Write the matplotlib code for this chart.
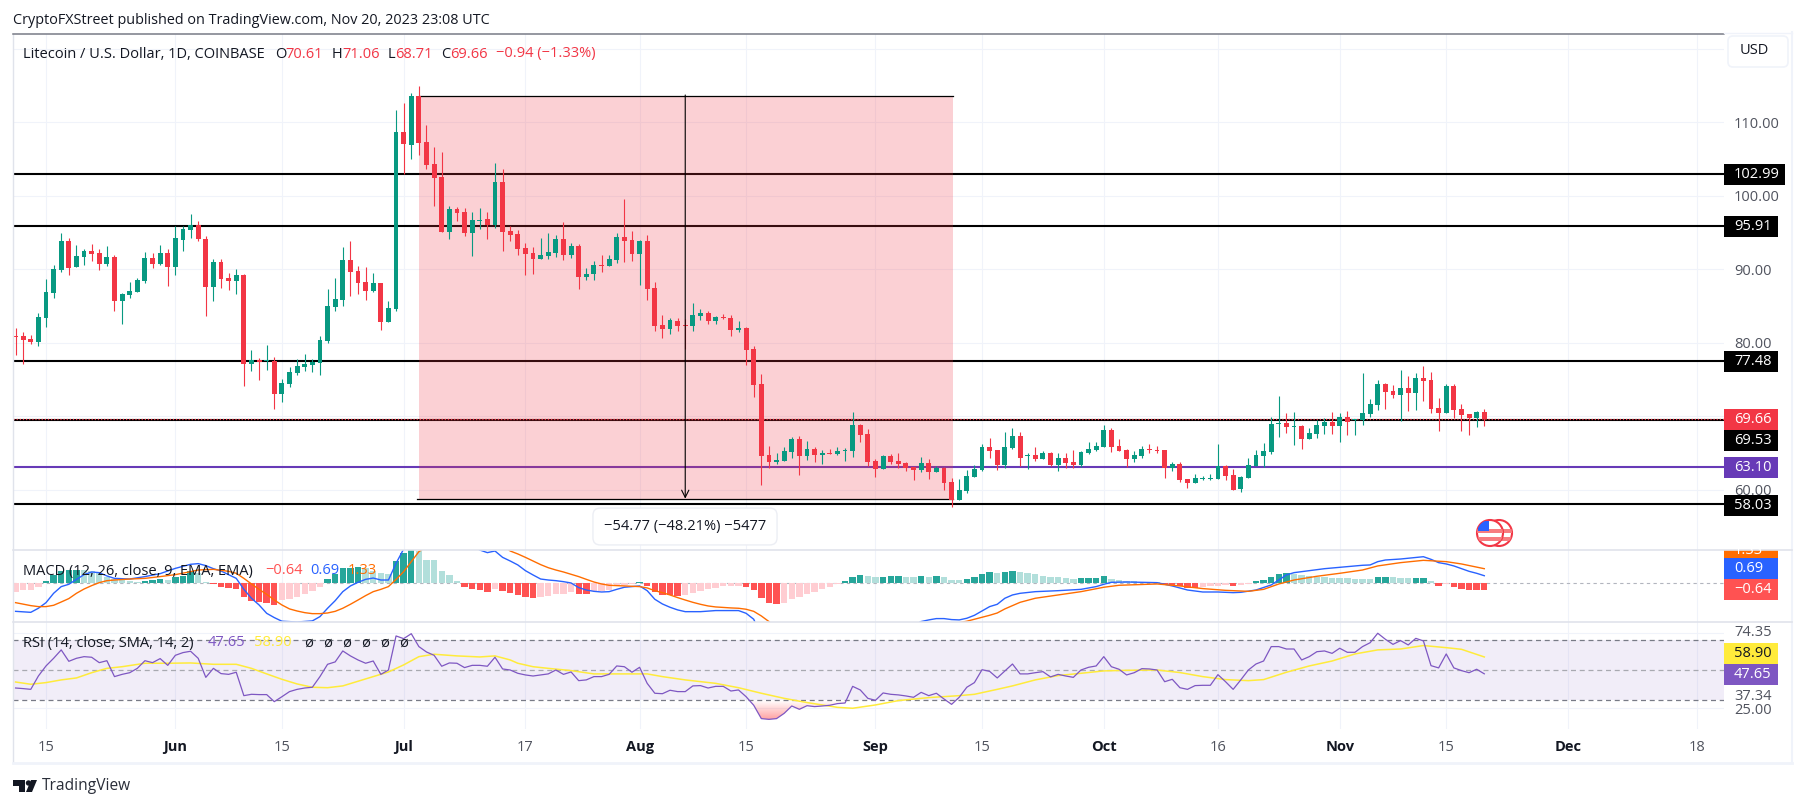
import matplotlib
matplotlib.use('Agg')
import matplotlib.pyplot as plt
import numpy as np
from matplotlib.colors import LinearSegmentedColormap
from matplotlib.patches import Circle, FancyBboxPatch, Polygon, Rectangle

plt.rcParams['font.family'] = ['Open Sans', 'DejaVu Sans']

W, H = 1804, 808

# daily candles, day 0 = May 15
days = np.arange(-4, 190)
opens = [80.89, 80.93, 80.52, 80.11, 83.38, 86.78, 89.91, 93.86, 90.32, 91.68,
         92.50, 92.22, 90.73, 91.68, 85.69, 86.51, 86.92, 88.41, 91.54, 90.73,
         92.22, 90.32, 93.99, 95.35, 96.03, 94.13, 87.60, 91.00, 88.82, 88.41,
         89.23, 77.12, 77.67, 77.53, 77.53, 73.04, 74.40, 75.90, 76.71, 76.99,
         77.26, 80.25, 84.88, 85.83, 91.27, 89.77, 88.28, 87.05, 88.14, 82.84,
         84.60, 108.69, 106.92, 113.58, 107.32, 104.33, 102.56, 95.08, 98.21, 97.80,
         94.94, 96.58, 96.85, 96.03, 101.88, 95.22, 94.81, 92.90, 92.22, 91.41,
         91.82, 92.22, 94.13, 91.95, 93.18, 88.96, 89.37, 90.59, 90.45, 91.27,
         94.40, 93.99, 92.09, 93.86, 87.46, 82.43, 81.88, 82.97, 82.43, 82.29,
         83.65, 84.06, 82.97, 83.47, 83.38, 81.75, 82.02, 79.16, 74.40, 64.74,
         63.79, 63.93, 65.15, 66.92, 64.61, 65.56, 64.74, 64.97, 64.88, 65.33,
         65.29, 68.82, 67.60, 63.93, 62.84, 64.61, 63.93, 63.65, 63.11, 62.70,
         63.65, 62.43, 62.97, 61.07, 58.62, 59.84, 61.75, 62.70, 65.83, 65.42,
         63.38, 65.69, 67.33, 64.65, 64.74, 64.20, 65.01, 63.38, 64.33, 63.79,
         63.38, 65.01, 65.42, 65.83, 68.15, 65.97, 65.42, 64.20, 64.61, 65.56,
         65.42, 65.42, 62.98, 63.52, 61.48, 60.94, 61.53, 61.53, 61.48, 63.25,
         62.02, 60.12, 61.62, 63.25, 64.61, 65.15, 68.99, 69.10, 68.60, 68.69,
         66.92, 67.60, 68.69, 69.23, 68.69, 69.91, 69.46, 69.51, 70.32, 71.55,
         74.40, 73.45, 72.91, 73.86, 73.18, 75.22, 74.95, 71.14, 70.46, 74.13,
         71.00, 70.32, 69.78, 70.61]
highs = [82.02, 81.48, 81.07, 84.06, 88.69, 90.59, 94.94, 94.26, 93.31, 92.77,
         93.45, 92.77, 93.18, 91.95, 86.78, 88.28, 88.82, 92.36, 92.22, 93.31,
         92.77, 95.90, 95.90, 97.53, 96.58, 94.54, 91.41, 91.41, 89.50, 90.05,
         89.37, 79.03, 77.94, 79.71, 78.07, 75.08, 76.71, 77.80, 78.48, 77.80,
         80.93, 87.33, 88.82, 93.04, 93.86, 90.45, 90.32, 89.50, 88.14, 85.69,
         111.68, 112.63, 113.99, 114.94, 109.64, 106.64, 105.96, 98.62, 98.48, 98.35,
         97.80, 98.35, 97.80, 104.47, 103.65, 95.90, 95.35, 93.58, 93.04, 94.26,
         94.94, 94.67, 96.44, 93.58, 93.45, 90.18, 91.13, 91.95, 91.95, 94.94,
         99.57, 95.22, 93.99, 94.67, 88.28, 83.79, 83.38, 83.38, 83.24, 85.42,
         84.60, 84.33, 83.65, 83.92, 83.79, 82.97, 82.16, 79.57, 75.76, 65.97,
         65.01, 65.83, 67.19, 67.33, 66.65, 65.83, 65.42, 65.56, 65.83, 65.69,
         70.59, 68.96, 68.28, 64.20, 64.74, 64.88, 65.01, 63.79, 63.11, 64.47,
         64.20, 63.25, 63.11, 61.61, 61.48, 62.70, 63.38, 66.24, 67.05, 65.42,
         67.87, 68.42, 67.87, 65.01, 65.83, 65.29, 65.15, 65.01, 65.01, 65.42,
         65.29, 66.51, 66.51, 68.82, 68.42, 66.92, 65.56, 65.29, 65.97, 66.24,
         65.97, 65.42, 63.79, 63.79, 61.48, 62.16, 61.89, 62.16, 66.24, 63.38,
         62.84, 61.89, 64.34, 65.42, 66.38, 69.91, 72.77, 70.46, 70.59, 68.83,
         68.42, 69.51, 69.78, 70.59, 70.46, 70.73, 69.64, 75.90, 72.36, 74.95,
         74.54, 74.27, 76.31, 75.49, 75.90, 76.85, 76.04, 72.50, 74.40, 74.40,
         71.68, 70.32, 70.73, 71.06]
lows = [78.35, 77.12, 79.84, 79.57, 82.16, 86.10, 89.64, 89.23, 90.32, 90.59,
        91.13, 89.91, 90.45, 84.33, 82.56, 86.10, 86.92, 88.14, 90.18, 90.59,
        87.73, 89.23, 92.50, 94.26, 93.86, 83.65, 85.69, 87.46, 87.19, 86.65,
        74.13, 76.17, 74.94, 76.31, 71.00, 71.95, 73.99, 75.63, 76.17, 76.03,
        75.63, 79.98, 84.33, 85.01, 86.37, 86.65, 85.83, 86.92, 81.75, 82.84,
        84.33, 102.97, 105.01, 105.56, 103.65, 98.62, 95.08, 94.13, 96.58, 94.54,
        91.82, 95.49, 94.13, 95.62, 92.50, 93.86, 91.95, 89.23, 89.37, 91.41,
        91.41, 91.68, 91.27, 91.54, 87.33, 88.55, 88.55, 89.64, 90.45, 90.86,
        91.00, 91.13, 87.87, 85.83, 81.61, 80.66, 81.20, 81.61, 79.16, 81.61,
        83.11, 82.56, 82.56, 83.24, 80.93, 81.48, 76.99, 72.63, 60.66, 62.97,
        63.52, 63.93, 64.33, 62.02, 64.06, 63.79, 63.52, 64.88, 64.74, 63.93,
        64.47, 66.51, 63.25, 61.75, 62.84, 63.52, 62.97, 62.56, 61.34, 62.43,
        61.48, 62.43, 59.98, 57.67, 58.62, 59.57, 61.75, 62.56, 64.33, 62.70,
        62.97, 65.56, 63.25, 62.84, 63.93, 64.20, 63.25, 62.56, 62.97, 62.97,
        63.11, 64.88, 65.29, 65.83, 65.15, 65.29, 63.11, 63.79, 64.34, 65.02,
        65.02, 61.62, 62.57, 61.07, 60.26, 60.94, 61.34, 61.34, 61.48, 61.34,
        59.98, 59.71, 61.62, 63.25, 63.11, 64.88, 67.19, 67.74, 66.11, 65.56,
        66.92, 67.06, 67.60, 67.60, 66.51, 67.47, 67.47, 68.83, 69.91, 70.87,
        71.00, 72.50, 69.37, 70.73, 70.87, 72.09, 70.46, 68.01, 70.46, 69.78,
        68.01, 67.47, 68.55, 68.71]
closes = [80.84, 80.39, 80.11, 83.52, 86.92, 90.05, 93.86, 90.18, 91.82, 92.50,
          92.09, 90.73, 91.68, 85.69, 86.65, 87.05, 88.55, 91.54, 90.73, 92.22,
          90.32, 94.26, 95.49, 96.03, 94.13, 87.60, 91.00, 88.69, 88.41, 89.23,
          77.12, 77.67, 77.39, 77.62, 73.04, 74.54, 76.03, 76.85, 77.12, 77.39,
          80.39, 85.01, 85.97, 91.27, 89.64, 88.14, 87.05, 88.14, 82.84, 84.74,
          108.69, 107.05, 113.58, 107.19, 104.20, 102.43, 95.08, 98.21, 97.67, 94.94,
          96.71, 96.71, 96.03, 101.88, 95.08, 94.67, 92.77, 92.09, 91.41, 91.95,
          92.36, 94.13, 91.95, 93.18, 88.96, 89.37, 90.59, 90.50, 91.41, 94.40,
          93.86, 92.09, 93.86, 87.33, 82.29, 81.88, 83.11, 82.29, 82.34, 83.79,
          84.06, 82.97, 83.52, 83.34, 81.75, 82.02, 79.03, 74.27, 64.61, 63.79,
          64.06, 65.29, 66.92, 64.61, 65.56, 64.74, 65.01, 64.88, 65.29, 65.42,
          68.82, 67.46, 63.79, 62.84, 64.61, 63.79, 63.52, 62.97, 62.70, 63.65,
          62.43, 62.97, 60.93, 58.62, 59.98, 61.88, 62.84, 65.83, 65.29, 63.38,
          65.83, 67.33, 64.33, 64.74, 64.20, 65.01, 63.38, 64.33, 63.65, 63.38,
          65.15, 65.56, 65.97, 68.14, 65.83, 65.29, 64.20, 64.74, 65.56, 65.47,
          65.33, 62.98, 63.52, 61.34, 60.94, 61.62, 61.62, 61.62, 63.25, 61.89,
          59.98, 61.75, 63.38, 64.74, 65.29, 68.96, 69.10, 68.55, 68.69, 66.92,
          67.74, 68.83, 69.23, 68.69, 69.91, 69.23, 69.55, 70.46, 71.68, 74.40,
          73.32, 72.91, 73.86, 73.18, 75.22, 74.81, 71.00, 70.46, 74.13, 70.87,
          70.19, 69.78, 70.59, 69.66]

macd_hist = [-.76, -.65, -.60, -.30, .21, .73, 1.15, 1.21, 1.25, 1.20,
             1.10, .90, .60, .40, .30, .20, .15, .25, .30, .40,
             .30, .55, .67, 1.10, .90, .12, -.03, -.30, -.42, -.52,
             -1.27, -1.58, -1.73, -1.82, -1.97, -1.52, -1.42, -1.27, -.97, -.67,
             -.30, .39, .85, 1.42, 1.43, 1.48, 1.42, 1.15, .91, .82,
             2.0, 2.73, 3.03, 2.97, 2.12, 2.10, 1.15, .76, .21, -.30,
             -.48, -.61, -.82, -.52, -.70, -.85, -1.06, -1.24, -1.33, -1.24,
             -1.15, -.97, -.96, -.79, -.97, -.98, -.70, -.67, -.61, -.15,
             -.14, -.09, .12, -.27, -.76, -1.06, -1.07, -1.15, -1.06, -.88,
             -.73, -.52, -.42, -.24, -.23, -.22, -.33, -.61, -1.33, -1.79,
             -1.88, -1.79, -1.42, -1.24, -.97, -.79, -.52, -.33, -.03, .21,
             .58, .76, .67, .58, .59, .67, .68, .58, .57, .67,
             .58, .67, .58, .30, .29, .39, .58, .85, 1.03, .94,
             1.0, 1.12, 1.06, .91, .82, .70, .61, .55, .52, .42,
             .45, .48, .52, .67, .42, .27, .21, .18, .15, .14,
             .12, -.03, -.12, -.24, -.39, -.42, -.30, -.24, -.21, -.18,
             -.21, -.12, -.02, .21, .30, .55, .82, .91, .85, .79,
             .70, .61, .55, .52, .48, .45, .42, .39, .38, .58,
             .61, .55, .52, .45, .48, .52, .18, -.21, -.09, -.36,
             -.52, -.58, -.61, -.64]

macd_days = [-4, -2, -1, 0, 1, 2, 3, 5, 6, 7, 8, 9, 11, 13, 15, 17, 19, 20, 21, 22, 23, 25, 26, 27,
             28, 29, 30, 31, 33, 35, 36, 37, 38, 39, 40, 41, 42, 43, 44, 45, 46, 47, 48, 49, 50, 52,
             54, 57, 58, 59, 60, 61, 62, 63, 64, 65, 66, 67, 68, 69, 70, 71, 72, 73, 74, 75, 76, 77,
             78, 79, 80, 81, 82, 83, 84, 86, 88, 90, 91, 92, 93, 94, 95, 97, 100, 110, 115, 116, 117,
             118, 119, 120, 121, 122, 123, 124, 125, 126, 127, 128, 130, 133, 136, 138, 139, 140,
             142, 146, 148, 150, 152, 154, 156, 157, 159, 161, 162, 163, 164, 166, 168, 171, 173,
             174, 175, 176, 178, 181, 182, 183, 184, 185, 186, 187, 188, 189]
macd_line = [-2.55, -2.64, -2.27, -1.76, -.91, -.30, -.09, .79, 1.03, .97, .67, .45, .39, .61, .88, 1.36, 1.73, 1.79, 1.61, 1.33, 1.12, .45, -.55, -1.36,
             -1.97, -2.73, -3.12, -3.45, -3.52, -3.42, -3.03, -2.27, -1.58, -.76, -.24, .09, .36, .48, .30, .30, 1.82, 3.12, 4.39, 5.45, 5.76, 5.15,
             4.24, 3.03, 2.79, 2.94, 2.36, 2.03, 1.67, 1.15, .76, .39, .30, .24, .15, .03, -.39, -.61, -.73, -.79, -.76, -.55, -.36, -.30,
             -.24, -.67, -1.45, -1.88, -2.18, -2.42, -2.58, -2.58, -2.48, -2.48, -2.48, -2.73, -3.27, -4.85, -6.36, -7.88, -7.90, -5.20, -3.48, -3.33, -3.21,
             -3.21, -3.30, -3.33, -3.18, -2.91, -2.52, -2.12, -1.91, -1.36, -1.06, -.91, -.76, -.67, -.55, -.30, -.09, .09,
             .12, .06, -.24, -.61, -.79, -.79, -.85, -.82, -.61, -.15, .30, .76, .97, 1.15, 1.33, 1.52, 1.64,
             1.67, 1.97, 2.12, 2.21, 2.42, 2.18, 1.88, 1.76, 1.58, 1.33, 1.09, .91, .69]

signal_days = [-4, -2, -1, 0, 1, 2, 3, 4, 5, 6, 7, 8, 9, 11, 13, 15, 17, 19, 20, 22, 24, 25, 26, 27,
               28, 29, 30, 31, 32, 33, 34, 35, 36, 37, 38, 39, 40, 41, 42, 43, 44, 45, 46, 47, 48, 49,
               50, 52, 55, 57, 60, 61, 62, 63, 64, 65, 66, 67, 68, 69, 70, 71, 72, 73, 74, 75, 76, 78,
               79, 80, 81, 82, 83, 84, 85, 86, 87, 88, 90, 91, 92, 93, 94, 95, 96, 100, 105, 110, 115,
               120, 121, 122, 123, 124, 125, 126, 128, 130, 133, 136, 139, 141, 146, 149, 152, 155,
               158, 160, 162, 164, 167, 170, 173, 175, 178, 181, 184, 186, 189]
signal_line = [-1.76, -2.03, -2.12, -2.12, -2.0, -1.70, -1.39, -.91, -.52, -.21, .06, .24, .30, .39, .45, .61, .79, 1.06, 1.21, 1.27, 1.09, .91, .45, -.06,
               -.55, -1.0, -1.52, -1.97, -2.33, -2.52, -2.67, -2.76, -2.76, -2.70, -2.55, -2.27, -1.91, -1.52, -1.12, -.76, -.55, -.30, .36, 1.06, 1.97, 2.88,
               3.33, 4.09, 4.55, 4.39, 3.48, 2.94, 2.67, 2.36, 2.03, 1.70, 1.42, 1.21, 1.03, .82, .61, .36, .12, -.06, -.18, -.21, -.24, -.30,
               -.42, -.67, -.85, -1.06, -1.30, -1.52, -1.73, -1.91, -2.06, -2.15, -2.24, -2.27, -2.36, -2.55, -2.97, -3.48, -4.24, -6.67, -6.97, -5.76, -4.24,
               -3.58, -3.45, -3.27, -3.09, -2.91, -2.70, -2.33, -1.73, -1.36, -1.06, -.76, -.36, -.18, -.06, -.24, -.48, -.64,
               -.73, -.55, -.06, .30, .64, .91, 1.21, 1.58, 1.88, 2.09, 1.97, 1.76, 1.33]

rsi = [38.2, 37.8, 37.3, 46.2, 52.9, 58.0, 63.6, 56.0, 58.0, 59.1,
       58.7, 55.1, 56.4, 45.8, 47.3, 48.4, 51.3, 56.4, 55.1, 57.8,
       53.3, 60.0, 61.8, 62.7, 58.0, 45.3, 51.3, 47.8, 47.3, 48.7,
       33.1, 34.0, 33.8, 33.8, 29.1, 32.4, 35.8, 37.3, 38.2, 38.7,
       45.8, 54.0, 55.6, 62.9, 59.6, 56.9, 54.7, 56.2, 47.3, 50.2,
       72.9, 71.1, 74.4, 65.8, 62.2, 60.0, 52.7, 54.9, 54.7, 51.8,
       53.3, 53.3, 52.7, 58.7, 50.9, 50.2, 48.0, 46.9, 46.2, 46.9,
       47.6, 50.2, 47.3, 48.9, 43.1, 43.6, 45.8, 45.8, 47.3, 52.9,
       52.4, 48.7, 52.0, 41.3, 34.7, 34.4, 36.7, 35.8, 35.8, 39.6,
       39.8, 38.2, 39.3, 39.3, 36.2, 36.9, 32.4, 26.7, 17.8, 17.3,
       17.8, 21.3, 26.2, 24.0, 26.4, 25.8, 26.2, 26.7, 27.8, 28.2,
       39.3, 36.9, 31.3, 30.0, 34.9, 34.0, 33.6, 32.9, 32.0, 35.3,
       33.1, 34.7, 30.9, 27.3, 32.0, 38.7, 41.8, 50.4, 49.3, 44.9,
       49.6, 54.2, 47.6, 47.6, 48.4, 49.1, 45.6, 47.3, 46.2, 45.3,
       50.2, 52.0, 52.9, 59.1, 52.4, 50.7, 46.9, 48.4, 51.1, 50.9,
       50.2, 42.4, 44.0, 38.4, 37.3, 39.8, 40.0, 40.0, 47.1, 42.4,
       37.3, 43.6, 50.2, 54.2, 56.2, 65.8, 65.8, 64.2, 64.2, 56.9,
       59.1, 62.4, 62.9, 61.3, 64.7, 62.0, 62.0, 65.8, 68.4, 74.7,
       70.7, 67.3, 69.8, 66.9, 71.3, 69.6, 53.1, 51.6, 60.9, 51.6,
       49.8, 48.4, 50.7, 47.65]

rsi_ma_days = [-4, -2, 0, 2, 4, 6, 8, 10, 13, 16, 19, 22, 25, 27, 29, 31, 33, 35, 37, 39, 41, 43, 45,
               47, 49, 51, 54, 57, 59, 61, 62, 64, 66, 69, 72, 76, 79, 81, 84, 88, 91, 94, 97, 100,
               104, 106, 109, 112, 116, 120, 122, 125, 127, 130, 133, 136, 139, 142, 146, 149, 152,
               155, 158, 160, 163, 166, 169, 172, 175, 178, 181, 184, 186, 189]
rsi_ma = [42.2, 40.7, 41.8, 43.6, 44.9, 48.4, 51.3, 52.4, 54.7, 54.7, 54.9, 54.0, 54.0, 51.3, 47.6, 44.0, 40.9, 38.7, 38.4, 39.6, 42.7, 45.8, 48.9,
          53.6, 59.1, 60.7, 59.6, 58.9, 59.6, 56.9, 54.7, 52.4, 51.3, 49.8, 47.6, 47.6, 47.6, 45.8, 43.6, 41.3, 38.4, 34.7, 31.3, 28.5,
          25.3, 24.7, 26.9, 29.8, 31.8, 33.1, 34.0, 37.3, 39.6, 43.6, 46.5, 48.0, 49.6, 50.0, 50.2, 48.5, 45.8,
          43.8, 43.1, 43.8, 48.7, 52.9, 56.2, 60.9, 63.6, 64.2, 66.5, 65.1, 64.0, 58.9]

# horizontal levels drawn on the price pane
black_levels = [102.99, 95.91, 77.48, 69.53, 58.03]
purple_level = 63.10
last_close = 69.66

# measured move box
box_start, box_end = 49, 119.2
box_top, box_bottom = 113.58, 58.81
arrow_day = 84

price_ticks = [60, 70, 80, 90, 100, 110, 120]
price_labels = ['60.00', '', '80.00', '90.00', '100.00', '110.00', '']
tick_days = [0, 17, 31, 47, 63, 78, 92, 109, 123, 139, 154, 170, 184, 200, 217]
tick_labels = ['15', 'Jun', '15', 'Jul', '17', 'Aug', '15', 'Sep', '15', 'Oct', '16', 'Nov', '15', 'Dec', '18']

GREEN, RED = '#089981', '#f23645'
TEXT, AXIS_TEXT = '#131722', '#50535e'
GRID = '#f0f3fa'
BORDER = '#e0e3eb'
FONT = 10.5

fig = plt.figure(figsize=(W / 100, H / 100), dpi=100, facecolor='white')


def pane(left, top, right, bottom):
    return fig.add_axes([left / W, 1 - bottom / H, (right - left) / W, (bottom - top) / H])


ax = pane(13, 34, 1724, 550)
ax_macd = pane(13, 550, 1724, 622)
ax_rsi = pane(13, 622, 1724, 729)

xlim = (-4.336, 220.5)
for a in (ax, ax_macd, ax_rsi):
    a.set_xlim(xlim)
    a.set_xticks(tick_days)
    a.grid(True, axis='both', color=GRID, lw=0.8, zorder=0)
    a.set_axisbelow(True)
    a.tick_params(length=0, labelbottom=False, labelleft=False)
    for s in a.spines.values():
        s.set_visible(False)
ax_macd.set_yticks([])

# price pane
ax.set_ylim(51.82, 122.03)
ax.set_yticks(price_ticks)
ax.set_yticklabels(price_labels, fontsize=FONT, color=AXIS_TEXT)
ax.yaxis.tick_right()
ax.tick_params(axis='y', length=0, pad=7.2, labelright=True, labelleft=False)

for level in black_levels:
    ax.axhline(level, color='black', lw=1.5, zorder=2)
ax.axhline(purple_level, color='#673ab7', lw=1.5, zorder=2)
ax.axhline(last_close, color=RED, lw=0.9, ls=(0, (1, 1.5)), zorder=2.2)

ax.add_patch(Rectangle((box_start, box_bottom), box_end - box_start, box_top - box_bottom,
                       facecolor=RED, alpha=0.23, lw=0, zorder=2.5))
ax.plot([box_start, box_end], [box_top, box_top], color='black', lw=0.9, zorder=2.6)
ax.plot([box_start - 0.2, box_end], [box_bottom, box_bottom], color='black', lw=0.9, zorder=2.6)
ax.annotate('', xy=(arrow_day, box_bottom), xytext=(arrow_day, box_top + 0.15),
            arrowprops=dict(arrowstyle='->', color='black', lw=0.8, shrinkA=0, shrinkB=0,
                            mutation_scale=13), zorder=4)

o, h, l, c = map(np.array, (opens, highs, lows, closes))
colors = [GREEN if cl >= op else RED for op, cl in zip(o, c)]
ax.vlines(days, l, h, colors=colors, lw=0.8, zorder=3)
ax.bar(days, np.maximum(np.abs(c - o), 0.12), bottom=np.minimum(o, c), width=0.64, color=colors, lw=0, zorder=3.1)

# MACD pane
ax_macd.set_ylim(-3.52, 3.03)
ax_macd.axhline(0, color='#b2b5be', lw=0.8, ls=(0, (3, 3)), zorder=1)
hist_colors = []
for i, v in enumerate(macd_hist):
    prev = macd_hist[i - 1] if i else None
    if v >= 0:
        hist_colors.append('#26a69a' if prev is None or prev < v else '#b2dfdb')
    else:
        hist_colors.append('#ffcdd2' if prev is None or prev < v else '#ff5252')
ax_macd.bar(days, macd_hist, width=0.84, color=hist_colors, lw=0, zorder=2)
ax_macd.plot(macd_days, macd_line, color='#2962ff', lw=1.0, zorder=3)
ax_macd.plot(signal_days, signal_line, color='#ff6d00', lw=1.0, zorder=3.1)

# RSI pane
ax_rsi.set_yticks([25, 75])
ax_rsi.axhspan(30, 70, color='#7e57c2', alpha=0.1, lw=0, zorder=1)
for level, col in ((70, '#787b86'), (50, '#a8a9b0'), (30, '#787b86')):
    ax_rsi.axhline(level, color=col, lw=0.9, ls=(0, (4, 3)), zorder=2)
rsi_arr = np.array(rsi)
low_area = ax_rsi.fill_between(days, rsi_arr, 30, where=rsi_arr < 30, interpolate=True, color='none', lw=0)
fade = LinearSegmentedColormap.from_list('fade', [(1, 0.32, 0.32, 0.55), (1, 0.32, 0.32, 0.0)])
for path in low_area.get_paths():
    im = ax_rsi.imshow(np.linspace(0, 1, 64).reshape(-1, 1), extent=(xlim[0], xlim[1], 17, 30),
                       origin='lower', aspect='auto', cmap=fade, zorder=2.5)
    im.set_clip_path(path, ax_rsi.transData)
ax_rsi.set_xlim(xlim)
ax_rsi.set_ylim(10.87, 82.2)
ax_rsi.plot(rsi_ma_days, rsi_ma, color='#ffeb3b', lw=1.1, zorder=3)
ax_rsi.plot(days, rsi, color='#7e57c2', lw=0.9, zorder=3.1)

ax_rsi.set_xticklabels(tick_labels, fontsize=FONT)
ax_rsi.tick_params(axis='x', labelbottom=True, pad=8)
for lab in ax_rsi.get_xticklabels():
    if lab.get_text().isalpha():
        lab.set_fontweight('bold')
        lab.set_color(TEXT)
    else:
        lab.set_color(AXIS_TEXT)

# everything in screen pixels from here on: frame, tags, header text
ov = fig.add_axes([0, 0, 1, 1], zorder=10)
ov.set_xlim(0, W)
ov.set_ylim(H, 0)
ov.axis('off')
ov.patch.set_alpha(0)

ov.plot([12.5, 12.5], [34, 763], color=BORDER, lw=1)
ov.plot([1791.5, 1791.5], [32, 763], color=GRID, lw=1.5)
ov.plot([13, 1724], [34, 34], color='#787b86', lw=1.1)
ov.plot([1724, 1792], [33, 33], color=GRID, lw=1)
ov.plot([13, 1792], [763, 763], color=GRID, lw=2)
for y in (550, 622):
    ov.plot([13, 1792], [y, y], color=BORDER, lw=1.2)


def label(x, y, s, color=TEXT, size=FONT, **kw):
    return ov.text(x, y, s, color=color, fontsize=size, va='center', ha='left', **kw)


def tag(y, s, bg, fg='white', right=1778, height=21):
    ov.add_patch(Rectangle((1724, y - height / 2), right - 1724, height, facecolor=bg, lw=0))
    label(1734, y, s, fg)


# usd box
ov.add_patch(FancyBboxPatch((1731, 39), 54, 25, boxstyle='round,pad=3,rounding_size=5',
                            facecolor='white', edgecolor=GRID, lw=1.2))
label(1740, 51, 'USD', TEXT)

tag(174, '102.99', 'black', right=1785)
tag(226, '95.91', 'black')
tag(361.5, '77.48', 'black')
tag(419.6, '69.66', RED)
tag(440.5, '69.53', 'black')
tag(467.5, '63.10', '#673ab7')
tag(505.4, '58.03', 'black')

# macd tags, the orange one runs under the pane border
tag(550, '1.33', '#ff6d00', height=17)
ov.add_patch(Rectangle((1724, 538), 60, 12, facecolor='white', lw=0))
tag(568.7, '0.69', '#2962ff')
tag(589.5, '\u22120.64', '#ff5252')

label(1734, 632, '74.35', AXIS_TEXT)
label(1734, 710, '25.00', AXIS_TEXT)
ov.add_patch(Rectangle((1724, 686), 60, 21, facecolor='white', lw=0))
label(1734, 696, '37.34', AXIS_TEXT)
tag(653.5, '58.90', '#ffeb3b', fg=TEXT)
tag(674.5, '47.65', '#7e57c2')

label(13, 20, 'CryptoFXStreet published on TradingView.com, Nov 20, 2023 23:08 UTC', size=10.4)
label(23, 54, 'Litecoin / U.S. Dollar, 1D, COINBASE')
for x, key, xv, val in ((275, 'O', 285, '70.61'), (332, 'H', 342, '71.06'),
                        (388, 'L', 395, '68.71'), (441, 'C', 450, '69.66')):
    label(x, 54, key)
    label(xv, 54, val, RED)
label(496, 54, '\u22120.94 (\u22121.33%)', RED)

label(23, 571, 'MACD (12, 26, close, 9, EMA, EMA)')
label(265, 571, '\u22120.64', '#ff5252')
label(310, 571, '0.69', '#2962ff')
label(348, 571, '1.33', '#ff6d00')

label(23, 643, 'RSI (14, close, SMA, 14, 2)')
label(208, 643, '47.65', '#7e57c2')
label(254, 643, '58.90', '#ffeb3b')
for x in (304, 323, 342, 361, 380, 399):
    label(x, 643, '\u00f8')

ov.text(685, 526.5, '\u221254.77 (\u221248.21%) \u22125477', color=TEXT, fontsize=FONT, ha='center', va='center',
        bbox=dict(boxstyle='round,pad=0.75,rounding_size=0.5', facecolor='white', edgecolor='#eceef4', lw=1))

# flag badge
for cx in (1499, 1490):
    disc = Circle((cx, 533), 13, facecolor='white', edgecolor=RED, lw=1.5)
    ov.add_patch(disc)
    for y0 in (529, 537):
        stripe = Rectangle((cx - 13, y0), 26, 3.5, facecolor='#f77c80', lw=0)
        ov.add_patch(stripe)
        stripe.set_clip_path(disc)
canton = Rectangle((1478, 521), 11, 10, facecolor='#2962ff', lw=0)
ov.add_patch(canton)
canton.set_clip_path(disc)

# logo
ov.add_patch(Polygon([(13, 780), (25, 780), (25, 792), (19, 792), (19, 786), (13, 786)], facecolor=TEXT, lw=0))
ov.add_patch(Circle((28.5, 783), 2.7, facecolor=TEXT, lw=0))
ov.add_patch(Polygon([(31, 780), (37, 780), (32, 792), (26, 792)], facecolor=TEXT, lw=0))
label(42, 786, 'TradingView', '#2a2e39', size=11.2)

fig.savefig('out.png', dpi=100)
